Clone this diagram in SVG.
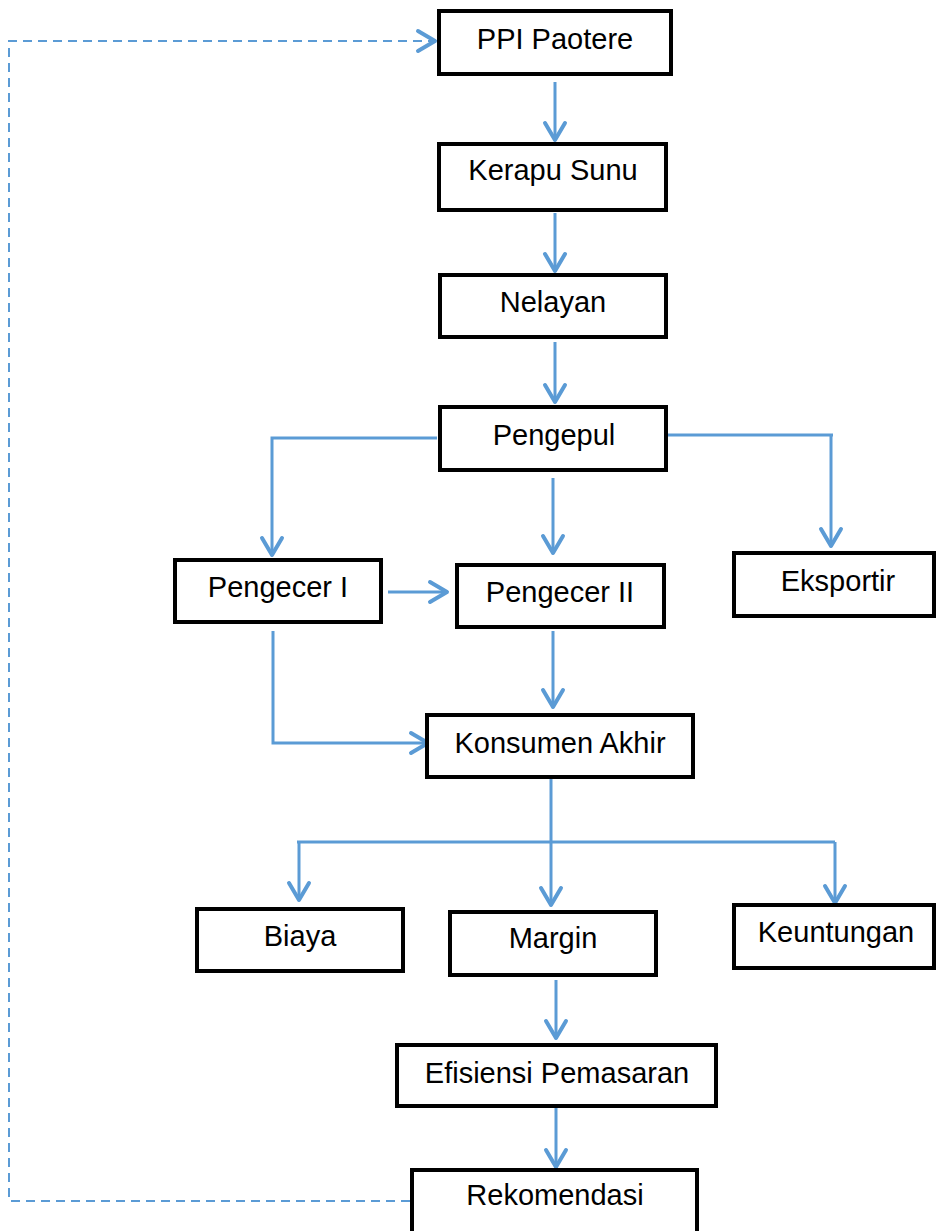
<svg xmlns="http://www.w3.org/2000/svg" width="936" height="1231" viewBox="0 0 936 1231">
<style>
.box{fill:#fff;stroke:#000;stroke-width:4}
.lbl{font-family:"Liberation Sans",Arial,sans-serif;font-size:29px;fill:#000;text-anchor:middle}
.con{fill:none;stroke:#5B9BD5;stroke-width:3}
.dash{fill:none;stroke:#5B9BD5;stroke-width:2;stroke-dasharray:9 6}
</style>
<defs>
<marker id="arr" viewBox="-22 -14 26 28" markerWidth="26" markerHeight="28" refX="0" refY="0" orient="auto" markerUnits="userSpaceOnUse">
<path d="M-17,-10 L0,0 L-17,10" fill="none" stroke="#5B9BD5" stroke-width="4" stroke-linecap="round" stroke-linejoin="round"/>
</marker>
</defs>
<rect width="936" height="1231" fill="#fff"/>
<g id="connectors">
<path class="con" d="M555,82 V140" marker-end="url(#arr)"/>
<path class="con" d="M555,213 V271" marker-end="url(#arr)"/>
<path class="con" d="M555,342 V402" marker-end="url(#arr)"/>
<path class="con" d="M437,438 H272 V555" marker-end="url(#arr)"/>
<path class="con" d="M553,478 V553" marker-end="url(#arr)"/>
<path class="con" d="M668,435 H833"/>
<path class="con" d="M831,435 V546" marker-end="url(#arr)"/>
<path class="con" d="M388,592 H447" marker-end="url(#arr)"/>
<path class="con" d="M553,631 V707" marker-end="url(#arr)"/>
<path class="con" d="M273,631 V743 H428" marker-end="url(#arr)"/>
<path class="con" d="M551,779 V905" marker-end="url(#arr)"/>
<path class="con" d="M297,842 H835"/>
<path class="con" d="M299,842 V900" marker-end="url(#arr)"/>
<path class="con" d="M835,842 V903" marker-end="url(#arr)"/>
<path class="con" d="M556,980 V1038" marker-end="url(#arr)"/>
<path class="con" d="M556,1108 V1167" marker-end="url(#arr)"/>
<path class="dash" d="M410,1201 H9 V41 H435" marker-end="url(#arr)"/>
</g>
<g id="ppi"><rect class="box" x="439" y="11" width="232" height="63"/><text class="lbl" x="555" y="49">PPI Paotere</text></g>
<g id="kerapu"><rect class="box" x="439" y="144" width="227" height="66"/><text class="lbl" x="553" y="180">Kerapu Sunu</text></g>
<g id="nelayan"><rect class="box" x="440" y="275" width="226" height="62"/><text class="lbl" x="553" y="312">Nelayan</text></g>
<g id="pengepul"><rect class="box" x="440" y="407" width="226" height="63"/><text class="lbl" x="554" y="445">Pengepul</text></g>
<g id="pengecer1"><rect class="box" x="175" y="560" width="206" height="62"/><text class="lbl" x="278" y="597">Pengecer I</text></g>
<g id="pengecer2"><rect class="box" x="457" y="565" width="207" height="62"/><text class="lbl" x="560" y="602">Pengecer II</text></g>
<g id="eksportir"><rect class="box" x="734" y="553" width="200" height="63"/><text class="lbl" x="838" y="591">Eksportir</text></g>
<g id="konsumen"><rect class="box" x="427" y="715" width="266" height="62"/><text class="lbl" x="560" y="753">Konsumen Akhir</text></g>
<g id="biaya"><rect class="box" x="197" y="909" width="206" height="62"/><text class="lbl" x="300" y="946">Biaya</text></g>
<g id="margin"><rect class="box" x="450" y="912" width="206" height="63"/><text class="lbl" x="553" y="948">Margin</text></g>
<g id="keuntungan"><rect class="box" x="734" y="905" width="200" height="63"/><text class="lbl" x="836" y="942">Keuntungan</text></g>
<g id="efisiensi"><rect class="box" x="397" y="1045" width="319" height="61"/><text class="lbl" x="557" y="1083">Efisiensi Pemasaran</text></g>
<g id="rekomendasi"><rect class="box" x="412" y="1170" width="285" height="80"/><text class="lbl" x="555" y="1205">Rekomendasi</text></g>
</svg>
